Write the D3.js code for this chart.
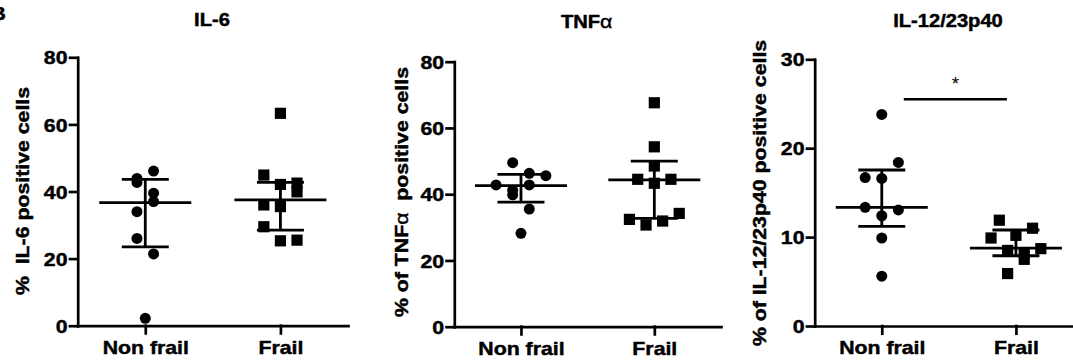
<!DOCTYPE html>
<html>
<head>
<meta charset="utf-8">
<script src="https://cdn.jsdelivr.net/npm/d3@7"></script>
<style>
  body { margin: 0; background: #fff; }
  text { font-family: "Liberation Sans", Arial, sans-serif; fill: #000; }
  text.heavy { stroke: #000; stroke-width: 0.45px; }
</style>
</head>
<body>
<script>
let width = 1073;
let height = 362;

// categories and values
let categories = ["Non frail", "Frail"];
let titles = ["IL-6", "TNF", "IL-12/23p40"];
let yLabels = ["%  IL-6 positive cells", "% of TNF", "% of IL-12/23p40 positive cells"];
let yTicks = [[0, 20, 40, 60, 80], [0, 20, 40, 60, 80], [0, 10, 20, 30]];
let yMax = [80, 80, 30];

// IL-6
let il6NonFrail = [46.1, 43.9, 42.7, 39.5, 37.0, 34.0, 26.0, 21.4, 2.2];
let il6NonFrailLane = [1, -1, -1, 1, 1, -1, -1, 1, 0];
let il6Frail = [63.3, 44.9, 42.1, 42.5, 39.9, 36.0, 35.5, 29.5, 25.3, 25.5];
let il6FrailLane = [0, -2, 0, 2, 2, -2, 0, -2, 0, 2];
// TNFa
let tnfNonFrail = [49.5, 46.3, 45.6, 42.8, 42.8, 41.2, 39.8, 35.5, 28.2];
let tnfNonFrailLane = [-1, 1, 3, -3, 1, -1, -1, 1, 0];
let tnfFrail = [67.6, 54.3, 48.5, 44.5, 44.5, 43.3, 32.4, 30.7, 31.9, 34.2];
let tnfFrailLane = [0, 0, 0, -2, 2, 0, -3, -1, 1, 3];
// IL-12/23p40
let il12NonFrail = [23.8, 18.4, 16.7, 16.6, 13.35, 13.05, 12.4, 9.9, 5.6];
let il12NonFrailLane = [0, 2, -2, 0, -2, 2, 0, 0, 0];
let il12Frail = [11.9, 11.0, 9.9, 10.2, 8.7, 8.5, 8.2, 7.5, 5.9];
let il12FrailLane = [-2, 2, -3, 0, 3, -1, 1, 1, -1];

// median and interquartile range per group [non frail, frail]
let medians = [[36.7, 37.5], [42.6, 44.3], [13.35, 8.75]];
let q1s = [[23.5, 28.5], [37.6, 32.7], [11.2, 7.9]];
let q3s = [[43.6, 42.7], [46.0, 50.0], [17.55, 10.8]];

let sigLabel = "*";
let sigY = 25.5;

let series = [
    [[il6NonFrail, il6NonFrailLane], [il6Frail, il6FrailLane]],
    [[tnfNonFrail, tnfNonFrailLane], [tnfFrail, tnfFrailLane]],
    [[il12NonFrail, il12NonFrailLane], [il12Frail, il12FrailLane]]
];

// layout of the three panels
let panels = [
    {x0: 77.7, x1: 348, y0: 325.7, y1: 57.3, titleX: 212, titleY: 26, labX: 28.5, labY: 191},
    {x0: 454.3, x1: 721, y0: 326.7, y1: 61.7, titleX: 586.7, titleY: 28.3, labX: 408, labY: 192},
    {x0: 814.7, x1: 1083, y0: 326, y1: 59.3, titleX: 948, titleY: 26.7, labX: 766, labY: 193}
];

let stretchK = 1.15;
let laneW = 8.3;

function stretch(sel){
    sel.each(function(){
        let len = this.getComputedTextLength();
        d3.select(this).attr("textLength", len * stretchK).attr("lengthAdjust", "spacingAndGlyphs");
    });
}

let svg = d3.select("body").append("svg");
svg.attr("width", width).attr("height", height);

// cut-off panel letter at the left edge (as in the source figure)
svg.append("text")
    .attr("class", "heavy")
    .attr("x", -9.5).attr("y", 20)
    .attr("font-size", 18.5).attr("font-weight", "bold")
    .text("B")
    .call(stretch);

panels.forEach(function(p, i){
    let g = svg.append("g").attr("class", "panel" + i);

    let x = d3.scalePoint().domain(categories).range([p.x0, p.x1]).padding(0.5);
    let y = d3.scaleLinear().domain([0, yMax[i]]).range([p.y0, p.y1]);

    let yAxis = g.append("g")
        .attr("transform", "translate(" + p.x0 + ",0)")
        .call(d3.axisLeft(y).tickValues(yTicks[i]).tickSize(7.7).tickSizeOuter(0).tickPadding(2.5));
    let xAxis = g.append("g")
        .attr("transform", "translate(0," + p.y0 + ")")
        .call(d3.axisBottom(x).tickSize(7.7).tickSizeOuter(0).tickPadding(7.3));

    g.selectAll(".domain, .tick line")
        .attr("stroke", "#000")
        .attr("stroke-width", 2.7)
        .attr("stroke-linecap", "square");

    yAxis.selectAll("text")
        .attr("class", "heavy")
        .attr("font-size", 18.5).attr("font-weight", "bold")
        .attr("font-family", "Liberation Sans, Arial, sans-serif")
        .attr("fill", "#000")
        .attr("dy", "0.36em")
        .call(stretch);
    xAxis.selectAll("text")
        .attr("class", "heavy")
        .attr("font-size", 18.5).attr("font-weight", "bold")
        .attr("font-family", "Liberation Sans, Arial, sans-serif")
        .attr("fill", "#000")
        .call(stretch);

    // title
    let t = g.append("text")
        .attr("class", "heavy")
        .attr("x", p.titleX).attr("y", p.titleY)
        .attr("text-anchor", "middle")
        .attr("font-size", 17.5).attr("font-weight", "bold")
        .text(titles[i]);
    if(i == 1){
        t.append("tspan").attr("font-weight", "normal").attr("font-size", 18.5).text("\u03b1");
    }
    t.call(stretch);

    // y label
    let yl = g.append("text")
        .attr("class", "heavy")
        .attr("transform", "translate(" + p.labX + "," + p.labY + ") rotate(-90)")
        .attr("text-anchor", "middle")
        .attr("font-size", 18.5).attr("font-weight", "bold")
        .style("white-space", "pre")
        .text(yLabels[i]);
    if(i == 1){
        yl.append("tspan").attr("font-weight", "normal").text("\u03b1");
        yl.append("tspan").text("  positive cells");
    }
    yl.call(stretch);

    // points
    series[i].forEach(function(s, j){
        let pts = s[0].map(function(v, k){ return {v: v, lane: s[1][k]}; });
        let cx = x(categories[j]);
        if(j == 0){
            g.selectAll(".dotNF")
                .data(pts)
                .enter()
                .append("circle")
                    .attr("class", "dotNF")
                    .attr("cx", function(d){ return cx + d.lane * laneW; })
                    .attr("cy", function(d){ return y(d.v); })
                    .attr("r", 5.5)
                    .attr("fill", "#000");
        }else{
            g.selectAll(".dotF")
                .data(pts)
                .enter()
                .append("rect")
                    .attr("class", "dotF")
                    .attr("x", function(d){ return cx + d.lane * laneW - 5.6; })
                    .attr("y", function(d){ return y(d.v) - 5.6; })
                    .attr("width", 11.2)
                    .attr("height", 11.2)
                    .attr("fill", "#000");
        }

        // median with interquartile range
        let lines = [
            [cx - 46, y(medians[i][j]), cx + 46, y(medians[i][j])],
            [cx - 23.5, y(q1s[i][j]), cx + 23.5, y(q1s[i][j])],
            [cx - 23.5, y(q3s[i][j]), cx + 23.5, y(q3s[i][j])],
            [cx, y(q1s[i][j]), cx, y(q3s[i][j])]
        ];
        g.selectAll(".stat" + j)
            .data(lines)
            .enter()
            .append("line")
                .attr("class", "stat" + j)
                .attr("x1", function(d){ return d[0]; })
                .attr("y1", function(d){ return d[1]; })
                .attr("x2", function(d){ return d[2]; })
                .attr("y2", function(d){ return d[3]; })
                .attr("stroke", "#000")
                .attr("stroke-width", 2.8);
    });

    // significance bar in the last panel
    if(i == 2){
        let a = x(categories[0]) + 22, b = x(categories[1]) - 9;
        g.append("line")
            .attr("x1", a).attr("x2", b)
            .attr("y1", y(sigY)).attr("y2", y(sigY))
            .attr("stroke", "#000").attr("stroke-width", 2.4);
        g.append("text")
            .attr("x", (a + b) / 2).attr("y", y(sigY) - 9.5)
            .attr("text-anchor", "middle")
            .attr("font-size", 19)
            .text(sigLabel);
    }
});
</script>
</body>
</html>
